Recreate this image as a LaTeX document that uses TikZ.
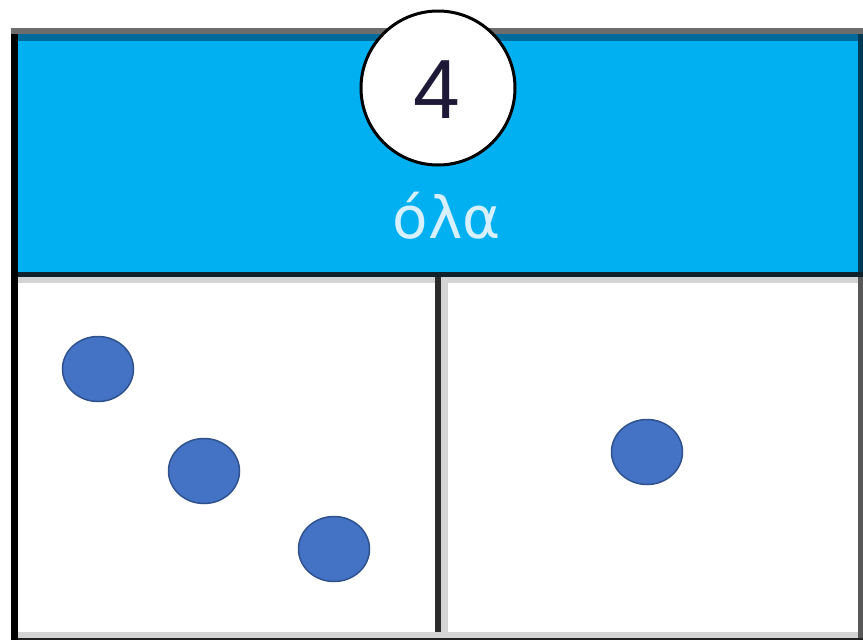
\documentclass[tikz,border=0pt]{standalone}
\usepackage{fontspec}
\setmainfont{Liberation Sans}
\newfontfamily\labelfont{DejaVu Sans}
\usetikzlibrary{shapes.geometric}
\definecolor{band}{HTML}{00B0F0}
\definecolor{bandtop}{HTML}{006B9A}
\definecolor{bandright}{HTML}{003A55}
\definecolor{dotfill}{HTML}{4472C4}
\definecolor{dotline}{HTML}{2F528F}
\definecolor{topgray}{HTML}{6D6D6D}
\definecolor{lightgray}{HTML}{D4D4D4}
\definecolor{rightgray}{HTML}{585858}
\definecolor{sepdark}{HTML}{10232D}
\definecolor{divdark}{HTML}{2B2B2B}
\definecolor{botdark}{HTML}{222222}
\definecolor{numcol}{HTML}{1E1937}
\definecolor{labelcol}{HTML}{D7F0FF}
\tikzset{
  dot/.style={ellipse, minimum width=71pt, minimum height=65pt, fill=dotfill, draw=dotline, line width=1.5pt, inner sep=0pt},
}
\begin{document}
\begin{tikzpicture}[x=1pt,y=-1pt]
\useasboundingbox (0,0) rectangle (863,640);
\fill[white] (0,0) rectangle (863,640);
% top gray line
\fill[topgray] (11,28) rectangle (863,34);
% blue band
\fill[band] (11,34) rectangle (863,272);
\fill[bandtop] (11,34) rectangle (863,41);
% right border
\fill[bandright] (858,34) rectangle (863,272);
\fill[rightgray] (858,272) rectangle (863,640);
% separator below band
\fill[sepdark] (11,272) rectangle (863,277);
\fill[lightgray] (18,277) rectangle (858,283);
% divider
\fill[divdark] (435,277) rectangle (441,638);
\fill[lightgray] (441,283) rectangle (448,632);
% bottom
\fill[lightgray] (18,632) rectangle (858,638);
\fill[botdark] (11,638) rectangle (863,640);
% left border
\fill[black] (11,34) rectangle (18,640);
% circle with number
\node[circle, fill=white, draw=black, line width=3pt, minimum size=154pt, inner sep=0pt] (num) at (438,88) {};
\node[font=\fontsize{84}{84}\selectfont, text=numcol, inner sep=0pt] (four) at (437,90) {4};
\node[font=\labelfont\fontsize{58}{58}\selectfont, text=labelcol, inner sep=0pt, anchor=base] (label) at (447,238) {όλα};
% dots
\node[dot] (d1) at (98,369) {};
\node[dot] (d2) at (204,471) {};
\node[dot] (d3) at (334,549) {};
\node[dot] (d4) at (647,452) {};
\end{tikzpicture}
\end{document}
